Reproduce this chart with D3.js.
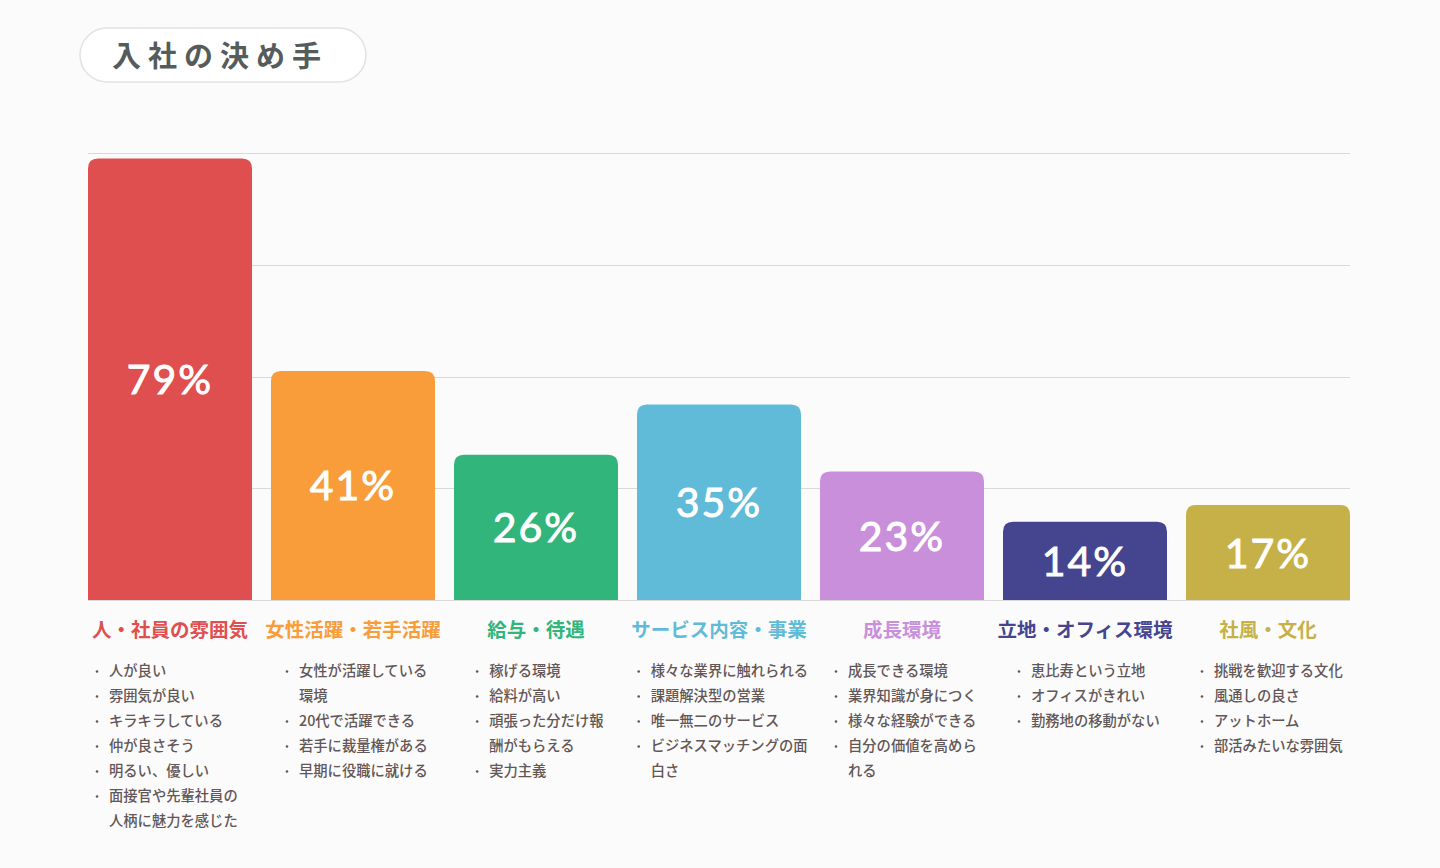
<!DOCTYPE html>
<html><head><meta charset="utf-8">
<script src="https://cdn.jsdelivr.net/npm/d3@7"></script>
<style>
html,body{margin:0;padding:0;background:#fbfbfb;}
svg{display:block;}
</style></head>
<body>
<svg id="chart" width="1440" height="868"></svg>
<script>
const title = "入社の決め手";
const categories = ["人・社員の雰囲気","女性活躍・若手活躍","給与・待遇","サービス内容・事業","成長環境","立地・オフィス環境","社風・文化"];
const values = [79, 41, 26, 35, 23, 14, 17];
const colors = ["#e04f4f","#f99d3b","#31b57b","#5fbbd8","#c98fdb","#45458f","#c6b048"];
const gridTicks = [0, 20, 40, 60, 80];
const reasons = [
  [["人が良い"],["雰囲気が良い"],["キラキラしている"],["仲が良さそう"],["明るい、優しい"],["面接官や先輩社員の","人柄に魅力を感じた"]],
  [["女性が活躍している","環境"],["20代で活躍できる"],["若手に裁量権がある"],["早期に役職に就ける"]],
  [["稼げる環境"],["給料が高い"],["頑張った分だけ報","酬がもらえる"],["実力主義"]],
  [["様々な業界に触れられる"],["課題解決型の営業"],["唯一無二のサービス"],["ビジネスマッチングの面","白さ"]],
  [["成長できる環境"],["業界知識が身につく"],["様々な経験ができる"],["自分の価値を高めら","れる"]],
  [["恵比寿という立地"],["オフィスがきれい"],["勤務地の移動がない"]],
  [["挑戦を歓迎する文化"],["風通しの良さ"],["アットホーム"],["部活みたいな雰囲気"]]
];

const svg = d3.select("#chart");
const JP = "'Noto Sans CJK JP','Noto Sans',sans-serif";
const textColor = "#625656";

// Title pill
const tg = svg.append("g");
tg.append("rect").attr("x",80).attr("y",28).attr("width",286).attr("height",54).attr("rx",27)
  .attr("fill","#ffffff").attr("stroke","#e2e2e2").attr("stroke-width",1.5);
tg.append("text").attr("x",112).attr("y",67).text(title)
  .attr("font-family",JP).attr("font-size",29).attr("font-weight",700)
  .attr("letter-spacing",7).attr("fill","#555c5c");

const x = d3.scaleBand().domain(categories).range([88,1350]).paddingInner(19/183).paddingOuter(0);
const y = d3.scaleLinear().domain([0,80]).range([600,153]);

// grid
svg.append("g").selectAll("line").data(gridTicks).join("line")
  .attr("x1",88).attr("x2",1350)
  .attr("y1",d=>Math.round(y(d))+0.5).attr("y2",d=>Math.round(y(d))+0.5)
  .attr("stroke","#d9d9d9").attr("stroke-width",1);

// bars with rounded top
const r = 10;
function barPath(d,i){
  const x0 = x(categories[i]), w = x.bandwidth(), y0 = y(d), y1 = y(0);
  return `M${x0},${y1}V${y0+r}Q${x0},${y0} ${x0+r},${y0}H${x0+w-r}Q${x0+w},${y0} ${x0+w},${y0+r}V${y1}Z`;
}
svg.append("g").selectAll("path").data(values).join("path")
  .attr("d",barPath).attr("fill",(d,i)=>colors[i]);

// value labels
svg.append("g").selectAll("text").data(values).join("text")
  .attr("x",(d,i)=>x(categories[i])+x.bandwidth()/2)
  .attr("y",d=>(y(d)+y(0))/2+15)
  .attr("text-anchor","middle")
  .attr("font-family","Lato, 'Open Sans', sans-serif").attr("font-size",41).attr("font-weight",400)
  .attr("letter-spacing",2)
  .attr("stroke","#ffffff").attr("stroke-width",0.9)
  .attr("fill","#ffffff").text(d=>d+"%");

// category labels
svg.append("g").selectAll("text").data(categories).join("text")
  .attr("x",d=>x(d)+x.bandwidth()/2).attr("y",637)
  .attr("text-anchor","middle").attr("font-family",JP).attr("font-size",19.5).attr("font-weight",700)
  .attr("fill",(d,i)=>colors[i]).text(d=>d);

// reason lists
const lg = svg.append("g");
reasons.forEach((items,i)=>{
  const g = lg.append("g");
  let line = 0;
  items.forEach(item=>{
    item.forEach((t,j)=>{
      const yy = 676 + line*25;
      if(j===0){
        g.append("circle").attr("cx",2).attr("cy",yy-4.5).attr("r",1.3).attr("fill",textColor);
      }
      g.append("text").attr("x",14).attr("y",yy).text(t)
        .attr("font-family",JP).attr("font-size",14.3).attr("font-weight",500).attr("fill",textColor);
      line++;
    });
  });
  const bb = g.node().getBBox();
  const cx = x(categories[i])+x.bandwidth()/2;
  g.attr("transform",`translate(${cx - bb.width/2 + (i===0?-4:3)},0)`);
});
</script>
</body></html>
